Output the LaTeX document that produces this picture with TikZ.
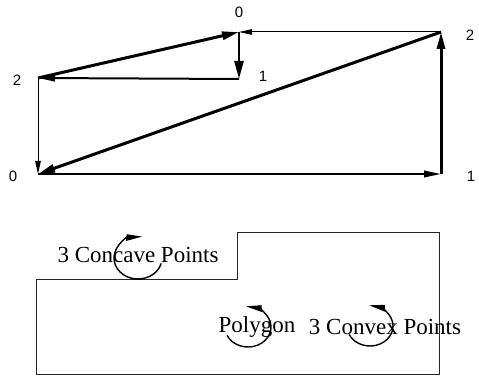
\documentclass[tikz,border=0pt]{standalone}
\usepackage{fontspec}
\setmainfont{Liberation Serif}
\newfontfamily\digitfont{Liberation Sans}
\usetikzlibrary{arrows.meta}
\tikzset{
  vlabel/.style={font=\digitfont\fontsize{15}{15}\selectfont, inner sep=0pt},
  plabel/.style={font=\fontsize{23}{23}\selectfont, inner sep=0pt},
  edgeA/.style={line width=3pt, -{Triangle[length=17pt,width=8pt]}},
  edgeB/.style={line width=2pt, -{Triangle[length=17pt,width=6.5pt]}},
  edgeC/.style={line width=1pt, -{Triangle[length=13pt,width=5.5pt]}},
  rotarc/.style={line width=1.4pt},
  polyline/.style={line width=1pt, draw=black!85},
}
\begin{document}
\begin{tikzpicture}[x=1pt,y=1pt]
\useasboundingbox (0,0) rectangle (479,378);
% top graph vertices
\coordinate (A0) at (38,204);
\coordinate (A1) at (441,204);
\coordinate (A2) at (441,346);
\coordinate (B0) at (239,346);
\coordinate (B1) at (239,299);
\coordinate (B2) at (38,300);
% labels
\node[vlabel] (lB0) at (239,366) {0};
\node[vlabel] (lB1) at (263,302) {1};
\node[vlabel] (lB2) at (17,298) {2};
\node[vlabel] (lA2) at (470,343) {2};
\node[vlabel] (lA0) at (13,202) {0};
\node[vlabel] (lA1) at (471,202) {1};
% edges
\draw[edgeC] (A2) -- (B0);
\draw[edgeC] (B2) -- (A0);
\draw[edgeB] (A0) -- (A1);
\draw[edgeB] (B1) -- (B2);
\draw[line width=2.5pt, -{Triangle[length=18pt,width=9pt]}] (B0) -- (B1);
\draw[edgeA] (A1) -- (A2);
\draw[edgeA] (A2) -- (A0);
\draw[edgeA] (B2) -- (B0);
% polygon
\coordinate (P1) at (36,99);
\coordinate (P2) at (237,99);
\coordinate (P3) at (237,146);
\coordinate (P4) at (439,146);
\coordinate (P5) at (439,4);
\coordinate (P6) at (36,4);
\draw[polyline] (P1) -- (P2) -- (P3) -- (P4) -- (P5) -- (P6) -- cycle;
% texts
\node[plabel] (tcc) at (138,123) {3 Concave Points};
\node[plabel] (tpoly) at (257,51) {Polygon};
\node[plabel] (tcv) at (385,51) {3 Convex Points};
% rotation arcs
\coordinate (c1) at (138,120);
\coordinate (c2) at (248,51);
\coordinate (c3) at (370,52);
\draw[rotarc, -{Triangle[length=14pt,width=12pt,harpoon,swap]}] (c1) ++(-15:24pt and 21pt) arc[start angle=-15, end angle=-280, x radius=24pt, y radius=21pt];
\draw[rotarc, -{Triangle[length=14pt,width=12pt,harpoon]}] (c2) ++(205:23pt and 20pt) arc[start angle=205, end angle=455, x radius=23pt, y radius=20pt];
\draw[rotarc, -{Triangle[length=14pt,width=12pt,harpoon]}] (c3) ++(205:23pt and 20pt) arc[start angle=205, end angle=452, x radius=23pt, y radius=20pt];
\end{tikzpicture}
\end{document}
